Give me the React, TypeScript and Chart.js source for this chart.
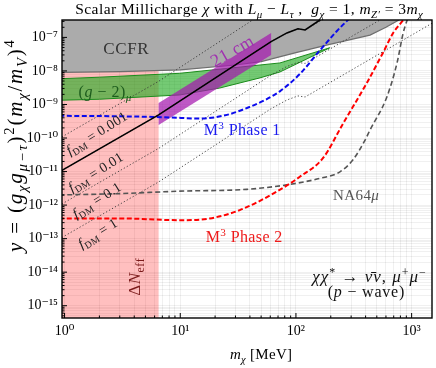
import React, { useEffect, useRef } from 'react';
import { Chart, registerables } from 'chart.js';
Chart.register(...registerables);

const FONT = '"Liberation Serif", "DejaVu Serif", serif';

// axis ranges and tick exponents
const xMin = 0.95, xMax = 1500;
const yMin = 4.3e-16, yMax = 3.3e-7;
const xTickExps = [0, 1, 2, 3];
const yTickExps = [-15, -14, -13, -12, -11, -10, -9, -8, -7];

// Delta N_eff excluded region (polygon)
const neffM = [0.5, 6.5, 6.5, 0.5];
const neffY = [1e-17, 1e-17, 2e-8, 2e-8];

// CCFR excluded region (polygon, boundary then closing above the plot)
const ccfrM = [0.5, 3, 10, 30, 50, 100, 200, 437, 600, 800, 800, 0.5];
const ccfrY = [8.9e-9, 9.5e-9, 1.07e-8, 1.5e-8, 1.9e-8, 3.5e-8, 6.3e-8, 1.17e-7, 2.0e-7, 3.5e-7, 1e-5, 1e-5];

// (g-2)_mu band (top edge then bottom edge reversed)
const g2M = [0.5, 2.0, 9.9, 72.7, 196, 72.7, 48.8, 22, 9.9, 2.0, 0.5];
const g2Y = [5.4e-9, 6.5e-9, 8.5e-9, 1.73e-8, 4.9e-8, 9.3e-9, 6.2e-9, 3.1e-9, 1.92e-9, 1.43e-9, 1.27e-9];

// 21 cm band
const cm21M = [6.5, 61, 61, 6.5];
const cm21Y = [2.45e-10, 3.0e-8, 1.35e-7, 1.1e-9];

// thermal target (solid black)
const relicM = [0.5, 1, 6.5, 61, 83.6, 104, 120, 161, 200];
const relicY = [2.9e-12, 1.2e-11, 4.9e-10, 7.5e-8, 1.36e-7, 1.8e-7, 1.67e-7, 3.3e-7, 5e-7];

// f_DM dotted lines
const fdmM = [0.5, 1, 6.5, 61, 83.6, 104, 120, 1600];
const fdm0001Y = [2.9e-11, 1.2e-10, 4.9e-9, 7.5e-7, 1.36e-6, 1.8e-6, 1.67e-6, 3e-4];
const fdm001Y = [2.9e-12, 1.2e-11, 4.9e-10, 7.5e-8, 1.36e-7, 1.8e-7, 1.67e-7, 3e-5];
const fdm01Y = [2.9e-13, 1.2e-12, 4.9e-11, 7.5e-9, 1.36e-8, 1.8e-8, 1.67e-8, 3e-6];
const fdm1Y = [2.9e-14, 1.2e-13, 4.9e-12, 7.5e-10, 1.36e-9, 1.8e-9, 1.67e-9, 3e-7];

// M3 Phase 1 (blue dashed)
const m3p1M = [0.9, 3.66, 8.1, 14.7, 25.3, 40, 54, 73, 108, 162, 226, 281, 320];
const m3p1Y = [4.6e-10, 4.4e-10, 4.1e-10, 3.8e-10, 4.9e-10, 8.5e-10, 1.35e-9, 2.5e-9, 8.1e-9, 4.2e-8, 1.55e-7, 3.3e-7, 5e-7];

// M3 Phase 2 (red dashed)
const m3p2M = [0.9, 3.0, 9.9, 18, 32.7, 68, 108, 171, 257, 410, 566, 692, 845, 950];
const m3p2Y = [4.0e-13, 4.0e-13, 3.55e-13, 4.0e-13, 7.1e-13, 2.5e-12, 7.0e-12, 2.5e-11, 2.8e-10, 4.4e-9, 3.5e-8, 1.35e-7, 3.3e-7, 6e-7];

// NA64mu (gray dashed)
const na64M = [0.9, 3.0, 9.9, 37.6, 83, 162, 240, 310, 396, 437, 612, 748, 845, 915, 1000];
const na64Y = [2.0e-12, 2.2e-12, 2.6e-12, 2.95e-12, 4.0e-12, 6.3e-12, 9.8e-12, 2.2e-11, 8.7e-11, 1.74e-10, 1.7e-9, 1.74e-8, 1.35e-7, 3.3e-7, 8e-7];

const SUP: Record<string, string> = { '-': '⁻', '0': '⁰', '1': '¹', '2': '²', '3': '³', '4': '⁴', '5': '⁵', '6': '⁶', '7': '⁷', '8': '⁸', '9': '⁹' };
const sup = (s: string) => s.split('').map((c) => SUP[c] ?? c).join('');
const pts = (xs: number[], ys: number[]) => xs.map((x, i) => ({ x, y: ys[i] }));

function buildLogTicks(exps: number[], min: number, max: number) {
  const ticks: any[] = [];
  const lo = Math.floor(Math.log10(min));
  const hi = Math.ceil(Math.log10(max));
  for (let e = lo; e <= hi; e++) {
    for (let k = 1; k <= 9; k++) {
      const v = k * Math.pow(10, e);
      if (v >= min && v <= max) ticks.push({ value: v, major: k === 1 && exps.includes(e), exp: e });
    }
  }
  return ticks;
}

type Seg = [string, string?];
const clusters = (t: string) => t.match(/.\p{M}*/gu) || [];

function drawRich(ctx: CanvasRenderingContext2D, segs: Seg[], x: number, y: number, size: number, color: string, align = 'center', rot = 0, ls = 0) {
  const fontFor = (st: string) => {
    const small = st.includes('sub') || st.includes('sup');
    const it = st.startsWith('i');
    return `${it ? 'italic ' : ''}${small ? size * 0.7 : size}px ${FONT}`;
  };
  const items: { t: string; st: string; w: number }[] = [];
  let w = 0;
  for (const [t, st = ''] of segs) {
    ctx.font = fontFor(st);
    for (const c of clusters(t)) {
      const cw = ctx.measureText(c).width + ls;
      items.push({ t: c, st, w: cw });
      w += cw;
    }
  }
  w -= ls;
  ctx.save();
  ctx.translate(x, y);
  ctx.rotate(rot);
  ctx.fillStyle = color;
  ctx.textBaseline = 'alphabetic';
  ctx.textAlign = 'left';
  let cx = align === 'center' ? -w / 2 : align === 'right' ? -w : 0;
  for (const it of items) {
    ctx.font = fontFor(it.st);
    const dy = it.st.includes('sub') ? size * 0.25 : it.st.includes('sup') ? -size * 0.38 : 0;
    ctx.fillText(it.t, cx, dy);
    cx += it.w;
  }
  ctx.restore();
}

const deg = Math.PI / 180;

const decorPlugin = {
  id: 'decor',
  beforeDraw(chart: any) {
    const ctx = chart.ctx;
    ctx.save();
    ctx.fillStyle = '#ffffff';
    ctx.fillRect(0, 0, chart.width, chart.height);
    ctx.restore();
  },
  afterDatasetsDraw(chart: any) {
    const ctx: CanvasRenderingContext2D = chart.ctx;
    const { left, right, top, bottom } = chart.chartArea;
    const xs = chart.scales.x, ys = chart.scales.y;
    ctx.save();
    ctx.strokeStyle = '#000';
    ctx.lineWidth = 1;
    for (const t of xs.ticks) {
      const px = xs.getPixelForValue(t.value);
      if (px < left + 1 || px > right - 1) continue;
      const len = t.major ? 5 : 2.5;
      ctx.beginPath();
      ctx.moveTo(px, bottom);
      ctx.lineTo(px, bottom - len);
      ctx.stroke();
    }
    for (const t of ys.ticks) {
      const py = ys.getPixelForValue(t.value);
      if (py < top + 1 || py > bottom - 1) continue;
      const len = t.major ? 5 : 2.5;
      ctx.beginPath();
      ctx.moveTo(left, py);
      ctx.lineTo(left + len, py);
      ctx.stroke();
    }
    ctx.lineWidth = 1.4;
    ctx.strokeRect(left, top, right - left, bottom - top);
    ctx.restore();

    // in-plot labels
    drawRich(ctx, [['CCFR']], 126, 54, 17, '#333333', 'center', 0, 0.6);
    drawRich(ctx, [['('], ['g', 'i'], [' − 2)'], ['μ', 'isub']], 105, 97, 16, '#1d5c1d', 'center', 0, 0.5);
    drawRich(ctx, [['21 cm']], 235, 56, 18, '#a030b0', 'center', -30 * deg, 0.5);
    drawRich(ctx, [['M'], ['3', 'sup'], [' Phase 1']], 242, 135, 16, '#1a1aee', 'center', 0, 0.4);
    drawRich(ctx, [['M'], ['3', 'sup'], [' Phase 2']], 244, 242, 16, '#ee1a1a', 'center', 0, 0.4);
    drawRich(ctx, [['NA64'], ['μ', 'i']], 356, 200, 15, '#555555', 'center', 0, 0.4);
    drawRich(ctx, [['χχ', 'i'], ['*', 'sup'], [' → '], ['ν̄ν', 'i'], [', '], ['μ', 'i'], ['+', 'sup'], ['μ', 'i'], ['−', 'sup']], 369, 282, 17, '#111111', 'center', 0, 1.0);
    drawRich(ctx, [['('], ['p', 'i'], [' − wave)']], 366, 297, 16, '#111111', 'center', 0, 0.8);
    drawRich(ctx, [['Δ'], ['N', 'i'], ['eff', 'sub']], 140, 277, 17, '#7a1a1a', 'center', -90 * deg, 0.5);
    const fr = -32 * deg;
    drawRich(ctx, [['f', 'i'], ['DM', 'sub'], [' = 0.001']], 99, 137, 14, '#222', 'center', fr, 0.3);
    drawRich(ctx, [['f', 'i'], ['DM', 'sub'], [' = 0.01']], 98, 176, 14, '#222', 'center', fr, 0.3);
    drawRich(ctx, [['f', 'i'], ['DM', 'sub'], [' = 0.1']], 99, 204, 14, '#222', 'center', fr, 0.3);
    drawRich(ctx, [['f', 'i'], ['DM', 'sub'], [' = 1']], 100, 237, 14, '#222', 'center', fr, 0.3);
  },
  afterDraw(chart: any) {
    const ctx: CanvasRenderingContext2D = chart.ctx;
    drawRich(ctx, [['Scalar Millicharge '], ['χ', 'i'], [' with '], ['L', 'i'], ['μ', 'isub'], [' − '], ['L', 'i'], ['τ', 'isub'], [' ,  '], ['g', 'i'], ['χ', 'isub'], [' = 1, '], ['m', 'i'], ['Z′', 'isub'], [' = 3'], ['m', 'i'], ['χ', 'isub']], 249, 14, 15.5, '#000', 'center', 0, 0.45);
    drawRich(ctx, [['y', 'i'], [' = ('], ['g', 'i'], ['χ', 'isub'], ['g', 'i'], ['μ−τ', 'isub'], [')'], ['2', 'sup'], ['('], ['m', 'i'], ['χ', 'isub'], ['/'], ['m', 'i'], ['V', 'isub'], [')'], ['4', 'sup']], 22, 146, 21, '#000', 'center', -90 * deg, 1.8);
    drawRich(ctx, [['m', 'i'], ['χ', 'isub'], [' [MeV]']], 261, 359, 15, '#000', 'center', 0, 0.3);
  },
};

const lineDs = (label: string, xs: number[], ys: number[], color: string, width: number, dash: number[], order: number, smooth = false) => ({
  label,
  data: pts(xs, ys),
  borderColor: color,
  borderWidth: width,
  borderDash: dash,
  pointRadius: 0,
  fill: false,
  order,
  cubicInterpolationMode: smooth ? 'monotone' : 'default',
  tension: 0,
});

const polyDs = (label: string, xs: number[], ys: number[], bg: string, border: string, bw: number, order: number) => ({
  label,
  data: pts(xs, ys),
  backgroundColor: bg,
  borderColor: border,
  borderWidth: bw,
  pointRadius: 0,
  fill: 'shape',
  order,
  tension: 0,
});

export default function App() {
  const ref = useRef<HTMLCanvasElement>(null);
  useEffect(() => {
    const dotted = '#333333';
    const chart = new Chart(ref.current!, {
      type: 'line',
      data: {
        datasets: [
          polyDs('ΔNeff', neffM, neffY, 'rgba(255,0,0,0.25)', 'rgba(0,0,0,0)', 0, 20),
          polyDs('(g-2)μ', g2M, g2Y, 'rgba(30,170,30,0.62)', '#1c8c1c', 1, 19),
          polyDs('CCFR', ccfrM, ccfrY, '#ababab', '#6e6e6e', 1.2, 18),
          polyDs('21 cm', cm21M, cm21Y, 'rgba(165,25,175,0.72)', 'rgba(0,0,0,0)', 0, 17),
          lineDs('fDM=0.001', fdmM, fdm0001Y, dotted, 0.9, [1.2, 2.2], 16),
          lineDs('fDM=0.01', fdmM, fdm001Y, dotted, 0.9, [1.2, 2.2], 15),
          lineDs('fDM=0.1', fdmM, fdm01Y, dotted, 0.9, [1.2, 2.2], 14),
          lineDs('fDM=1', fdmM, fdm1Y, dotted, 0.9, [1.2, 2.2], 13),
          lineDs('NA64μ', na64M, na64Y, '#555555', 1.6, [5, 3], 12, true),
          lineDs('M3 Phase 2', m3p2M, m3p2Y, '#ff0000', 2, [5, 2.5], 11, true),
          lineDs('M3 Phase 1', m3p1M, m3p1Y, '#0a0aee', 2, [5, 2.5], 10, true),
          lineDs('thermal', relicM, relicY, '#000000', 1.6, [], 9),
        ] as any,
      },
      options: {
        responsive: false,
        animation: false,
        devicePixelRatio: 1,
        layout: { padding: { left: 0, top: 20, right: 4, bottom: 0 } },
        plugins: { legend: { display: false }, tooltip: { enabled: false }, title: { display: false } },
        scales: {
          x: {
            type: 'logarithmic',
            min: xMin,
            max: xMax,
            border: { display: false },
            grid: { color: 'rgba(0,0,0,0.06)', drawTicks: false },
            afterBuildTicks: (s: any) => { s.ticks = buildLogTicks(xTickExps, xMin, xMax); },
            afterFit: (s: any) => { s.height = 50; s.paddingLeft = 0; s.paddingRight = 0; },
            ticks: {
              autoSkip: false,
              maxRotation: 0,
              minRotation: 0,
              padding: 5,
              color: '#000',
              font: { family: FONT, size: 14 },
              callback: (v: any, i: number, t: any[]) => (t[i].major ? '10' + sup(String(t[i].exp)) : ''),
            },
          },
          y: {
            type: 'logarithmic',
            min: yMin,
            max: yMax,
            border: { display: false },
            grid: { color: 'rgba(0,0,0,0.06)', drawTicks: false },
            afterBuildTicks: (s: any) => { s.ticks = buildLogTicks(yTickExps, yMin, yMax); },
            afterFit: (s: any) => { s.width = 62; s.paddingTop = 0; s.paddingBottom = 0; },
            ticks: {
              autoSkip: false,
              padding: 4,
              color: '#000',
              font: { family: FONT, size: 14 },
              callback: (v: any, i: number, t: any[]) => (t[i].major ? '10' + sup(String(t[i].exp)) : ''),
            },
          },
        },
      } as any,
      plugins: [decorPlugin],
    });
    return () => chart.destroy();
  }, []);
  return (
    <div style={{ position: 'absolute', left: 0, top: 0, width: 436, height: 368 }}>
      <canvas ref={ref} width={436} height={368} style={{ display: 'block', width: 436, height: 368 }} />
    </div>
  );
}
